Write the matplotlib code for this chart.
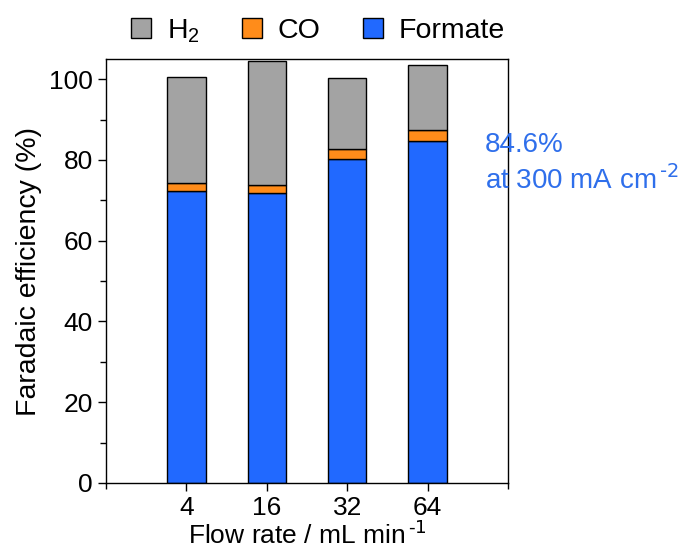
import numpy as np
import matplotlib.pyplot as plt
from matplotlib.ticker import MultipleLocator, FixedLocator

plt.rcParams['font.family'] = ['Liberation Sans', 'DejaVu Sans']
plt.rcParams['mathtext.default'] = 'regular'

flow_rates = ["4", "16", "32", "64"]
formate = [72.3, 71.9, 80.3, 84.6]
co = [1.9, 1.9, 2.3, 2.7]
h2 = [26.3, 30.6, 17.6, 16.2]

BLUE = "#2169FF"
ORANGE = "#FF8C1A"
GREY = "#A3A3A3"

fig = plt.figure(figsize=(6.89, 5.5), dpi=100)
ax = fig.add_axes([106/689, 1 - 483/550, 402/689, 424/550])

x = np.arange(len(flow_rates))
w = 0.48
kw = dict(width=w, edgecolor="black", linewidth=1.0)
b1 = ax.bar(x, formate, color=BLUE, label="Formate", **kw)
b2 = ax.bar(x, co, bottom=formate, color=ORANGE, label="CO", **kw)
bottom2 = np.array(formate) + np.array(co)
b3 = ax.bar(x, h2, bottom=bottom2, color=GREY, label="H$_2$", **kw)

ax.set_xlim(-1, 4)
ax.set_ylim(0, 105)
ax.set_xticks(x)
ax.set_xticklabels(flow_rates)
ax.xaxis.set_minor_locator(FixedLocator([-1, 4]))
ax.yaxis.set_major_locator(MultipleLocator(20))
ax.yaxis.set_minor_locator(MultipleLocator(10))
ax.tick_params(axis="both", which="major", direction="out", length=6, width=1, labelsize=19)
ax.tick_params(axis="both", which="minor", direction="out", length=4, width=1)
for s in ax.spines.values():
    s.set_linewidth(1.0)

ax.set_ylabel("Faradaic efficiency (%)", fontsize=20.5, labelpad=5)
ax.set_xlabel("Flow rate / mL min$^{\\,\\text{-1}}$", fontsize=19, labelpad=1)

ax.text(3.71, 86.8, "84.6%\nat 300 mA cm$^{\\,\\text{-2}}$", color="#2F6FEB", fontsize=20,
        va="top", ha="left", linespacing=1.32, clip_on=False)

fig.legend(handles=[b3, b2, b1], labels=["H$_2$", "CO", "Formate"], loc="center",
           bbox_to_anchor=(318/689, 1 - 31/550), ncol=3, frameon=False, fontsize=20.5,
           handlelength=0.7, handleheight=0.7, handletextpad=0.55, columnspacing=1.5)

fig.savefig("out.png", dpi=100)
